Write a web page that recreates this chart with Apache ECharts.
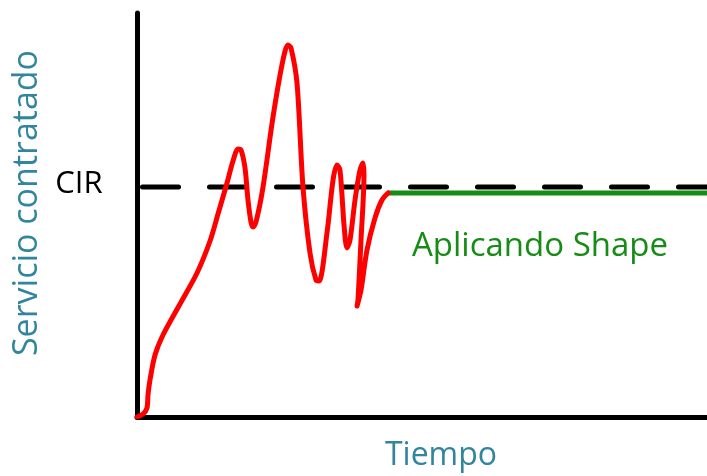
<!DOCTYPE html>
<html>
<head>
<meta charset="utf-8">
<script src="https://cdn.jsdelivr.net/npm/echarts@6/dist/echarts.min.js"></script>
<style>html,body{margin:0;padding:0;background:#fff}#c{width:707px;height:476px}</style>
</head>
<body>
<div id="c"></div>
<script>
// Time (0-100 scale) and contracted service (0-100 scale)
var timeVals = [0, 1.05, 1.75, 1.93, 2.28, 3.16, 4.56, 7.54, 10.53, 12.81, 14.21, 15.79, 16.84, 17.72, 18.25, 18.95, 19.47, 20.0, 20.35, 20.88, 22.11, 23.86, 25.61, 26.49, 27.02, 28.07, 29.12, 30.35, 31.40, 31.93, 33.33, 34.39, 35.09, 35.61, 36.32, 36.84, 37.37, 38.25, 39.12, 39.65, 39.82, 39.30, 38.77, 38.60, 39.30, 40.35, 41.75, 42.98, 44.04];
var trafficVals = [0, 0.74, 2.23, 5.45, 9.16, 15.35, 20.30, 27.97, 35.64, 43.56, 50.25, 57.92, 63.37, 66.34, 66.09, 61.63, 53.71, 48.27, 47.03, 48.27, 56.93, 74.26, 88.37, 92.08, 91.34, 82.67, 56.93, 40.59, 33.91, 33.66, 45.54, 58.66, 62.38, 61.14, 47.52, 41.83, 43.81, 53.71, 61.14, 62.87, 59.90, 43.81, 28.96, 27.48, 31.44, 41.34, 49.26, 53.71, 55.45];
var shapedTime = [44.04, 100];
var shapedVals = [55.45, 55.45];
var cirTime = [0, 100];
var cirVals = [56.93, 56.93];
var labels = {y: 'Servicio contratado', x: 'Tiempo', cir: 'CIR', shape: 'Aplicando Shape'};

function pairs(a, b) { return a.map(function (v, i) { return [v, b[i]]; }); }

var chart = echarts.init(document.getElementById('c'));
var FONT = '"Open Sans", sans-serif';
chart.setOption({
  animation: false,
  grid: {left: 137, right: 0, top: 13, bottom: 59},
  xAxis: {type: 'value', min: 0, max: 100, splitLine: {show: false}, axisTick: {show: false}, axisLabel: {show: false},
    axisLine: {show: true, lineStyle: {color: '#000', width: 5, cap: 'round'}}},
  yAxis: {type: 'value', min: 0, max: 100, splitLine: {show: false}, axisTick: {show: false}, axisLabel: {show: false},
    axisLine: {show: true, lineStyle: {color: '#000', width: 5, cap: 'round'}}},
  series: [
    {type: 'line', data: pairs(cirTime, cirVals), symbol: 'none', z: 2,
      lineStyle: {color: '#000', width: 5, type: [36, 31], dashOffset: 61.5, cap: 'round'}},
    {type: 'line', data: pairs(shapedTime, shapedVals), symbol: 'none', z: 3,
      lineStyle: {color: '#168C16', width: 5}},
    {type: 'line', data: pairs(timeVals, trafficVals), symbol: 'none', smooth: 0.3, z: 4,
      lineStyle: {color: '#FF0000', width: 5, cap: 'round', join: 'round'}}
  ],
  graphic: [
    {type: 'text', x: 27, y: 203, rotation: Math.PI / 2, style: {text: labels.y, fill: '#31859C', font: '34px ' + FONT, textAlign: 'center', textVerticalAlign: 'middle'}},
    {type: 'text', x: 441, y: 456, style: {text: labels.x, fill: '#31859C', font: '32px ' + FONT, textAlign: 'center', textVerticalAlign: 'middle'}},
    {type: 'text', x: 79, y: 184, style: {text: labels.cir, fill: '#000', font: '31px ' + FONT, textAlign: 'center', textVerticalAlign: 'middle'}},
    {type: 'text', x: 540, y: 247, style: {text: labels.shape, fill: '#168C16', font: '33px ' + FONT, textAlign: 'center', textVerticalAlign: 'middle'}}
  ]
});
</script>
</body>
</html>
